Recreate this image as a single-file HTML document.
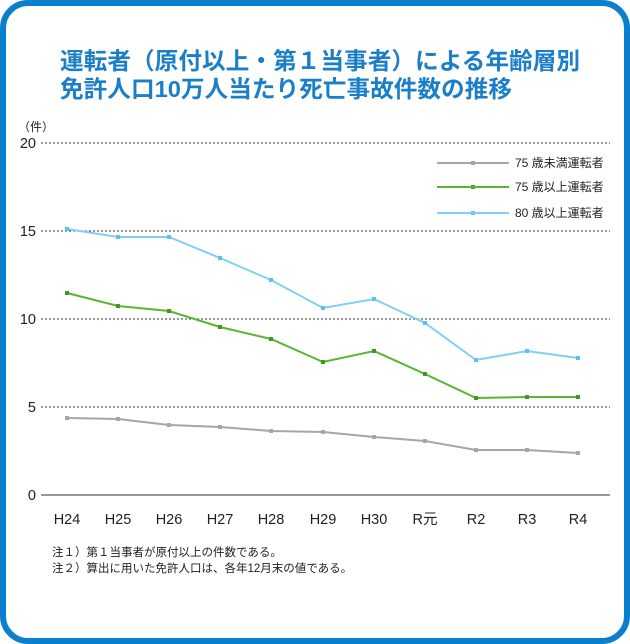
<!DOCTYPE html>
<html><head><meta charset="utf-8"><style>
body{margin:0;background:#fff;}
.f{position:absolute;left:0;top:0;width:618px;height:632px;border:6px solid #0a7fcf;border-radius:28px;background:#fff;}
</style></head><body>
<div class="f"></div>
<svg width="630" height="644" style="position:absolute;left:0;top:0" font-family="Liberation Sans, Noto Sans CJK JP, sans-serif">
<text x="60" y="69" font-size="23.5" font-weight="bold" fill="#1a7fc8" textLength="520" lengthAdjust="spacingAndGlyphs">運転者（原付以上・第１当事者）による年齢層別</text>
<text x="60" y="97" font-size="23.5" font-weight="bold" fill="#1a7fc8" textLength="452" lengthAdjust="spacingAndGlyphs">免許人口10万人当たり死亡事故件数の推移</text>
<text x="18" y="131" font-size="12" fill="#222">（件）</text>
<g font-size="14.5" fill="#222" text-anchor="end">
<text x="36" y="148">20</text><text x="36" y="236">15</text><text x="36" y="324">10</text><text x="36" y="412">5</text><text x="36" y="500">0</text></g>
<g stroke="#333" stroke-width="1" stroke-dasharray="2,2">
<line x1="41" y1="143" x2="610" y2="143"/><line x1="41" y1="231" x2="610" y2="231"/><line x1="41" y1="319" x2="610" y2="319"/><line x1="41" y1="407" x2="610" y2="407"/></g>
<line x1="41" y1="495" x2="610" y2="495" stroke="#333"/>
<g font-size="14.5" fill="#222" text-anchor="middle">
<text x="67" y="524">H24</text><text x="118" y="524">H25</text><text x="169" y="524">H26</text><text x="220" y="524">H27</text><text x="271" y="524">H28</text><text x="323" y="524">H29</text><text x="374" y="524">H30</text><text x="425" y="524">R元</text><text x="476" y="524">R2</text><text x="527" y="524">R3</text><text x="578" y="524">R4</text></g>
<polyline fill="none" stroke="#a6a6a6" stroke-width="2" points="67,418 118,419 169,425 220,427 271,431 323,432 374,437 425,441 476,450 527,450 578,453"/>
<polyline fill="none" stroke="#5ab52f" stroke-width="2" points="67,293 118,306 169,311 220,327 271,339 323,362 374,351 425,374 476,398 527,397 578,397"/>
<polyline fill="none" stroke="#7fd0f5" stroke-width="2" points="67,229 118,237 169,237 220,258 271,280 323,308 374,299 425,323 476,360 527,351 578,358"/>
<g fill="#a6a6a6"><rect x="65" y="416" width="4" height="4"/><rect x="116" y="417" width="4" height="4"/><rect x="167" y="423" width="4" height="4"/><rect x="218" y="425" width="4" height="4"/><rect x="269" y="429" width="4" height="4"/><rect x="321" y="430" width="4" height="4"/><rect x="372" y="435" width="4" height="4"/><rect x="423" y="439" width="4" height="4"/><rect x="474" y="448" width="4" height="4"/><rect x="525" y="448" width="4" height="4"/><rect x="576" y="451" width="4" height="4"/><rect x="471" y="161" width="4" height="4"/></g>
<g fill="#3e9a1f"><rect x="65" y="291" width="4" height="4"/><rect x="116" y="304" width="4" height="4"/><rect x="167" y="309" width="4" height="4"/><rect x="218" y="325" width="4" height="4"/><rect x="269" y="337" width="4" height="4"/><rect x="321" y="360" width="4" height="4"/><rect x="372" y="349" width="4" height="4"/><rect x="423" y="372" width="4" height="4"/><rect x="474" y="396" width="4" height="4"/><rect x="525" y="395" width="4" height="4"/><rect x="576" y="395" width="4" height="4"/><rect x="471" y="185" width="4" height="4"/></g>
<g fill="#5fc0ee"><rect x="65" y="227" width="4" height="4"/><rect x="116" y="235" width="4" height="4"/><rect x="167" y="235" width="4" height="4"/><rect x="218" y="256" width="4" height="4"/><rect x="269" y="278" width="4" height="4"/><rect x="321" y="306" width="4" height="4"/><rect x="372" y="297" width="4" height="4"/><rect x="423" y="321" width="4" height="4"/><rect x="474" y="358" width="4" height="4"/><rect x="525" y="349" width="4" height="4"/><rect x="576" y="356" width="4" height="4"/><rect x="471" y="211" width="4" height="4"/></g>
<line x1="437" y1="163" x2="509" y2="163" stroke="#a6a6a6" stroke-width="2"/>
<line x1="437" y1="187" x2="509" y2="187" stroke="#5ab52f" stroke-width="2"/>
<line x1="437" y1="213" x2="509" y2="213" stroke="#7fd0f5" stroke-width="2"/>
<g font-size="12" fill="#222"><text x="515" y="167">75 歳未満運転者</text><text x="515" y="191">75 歳以上運転者</text><text x="515" y="217">80 歳以上運転者</text></g>
<g font-size="11.5" fill="#222"><text x="52" y="556">注１）第１当事者が原付以上の件数である。</text><text x="52" y="572">注２）算出に用いた免許人口は、各年12月末の値である。</text></g>
</svg>
</body></html>
